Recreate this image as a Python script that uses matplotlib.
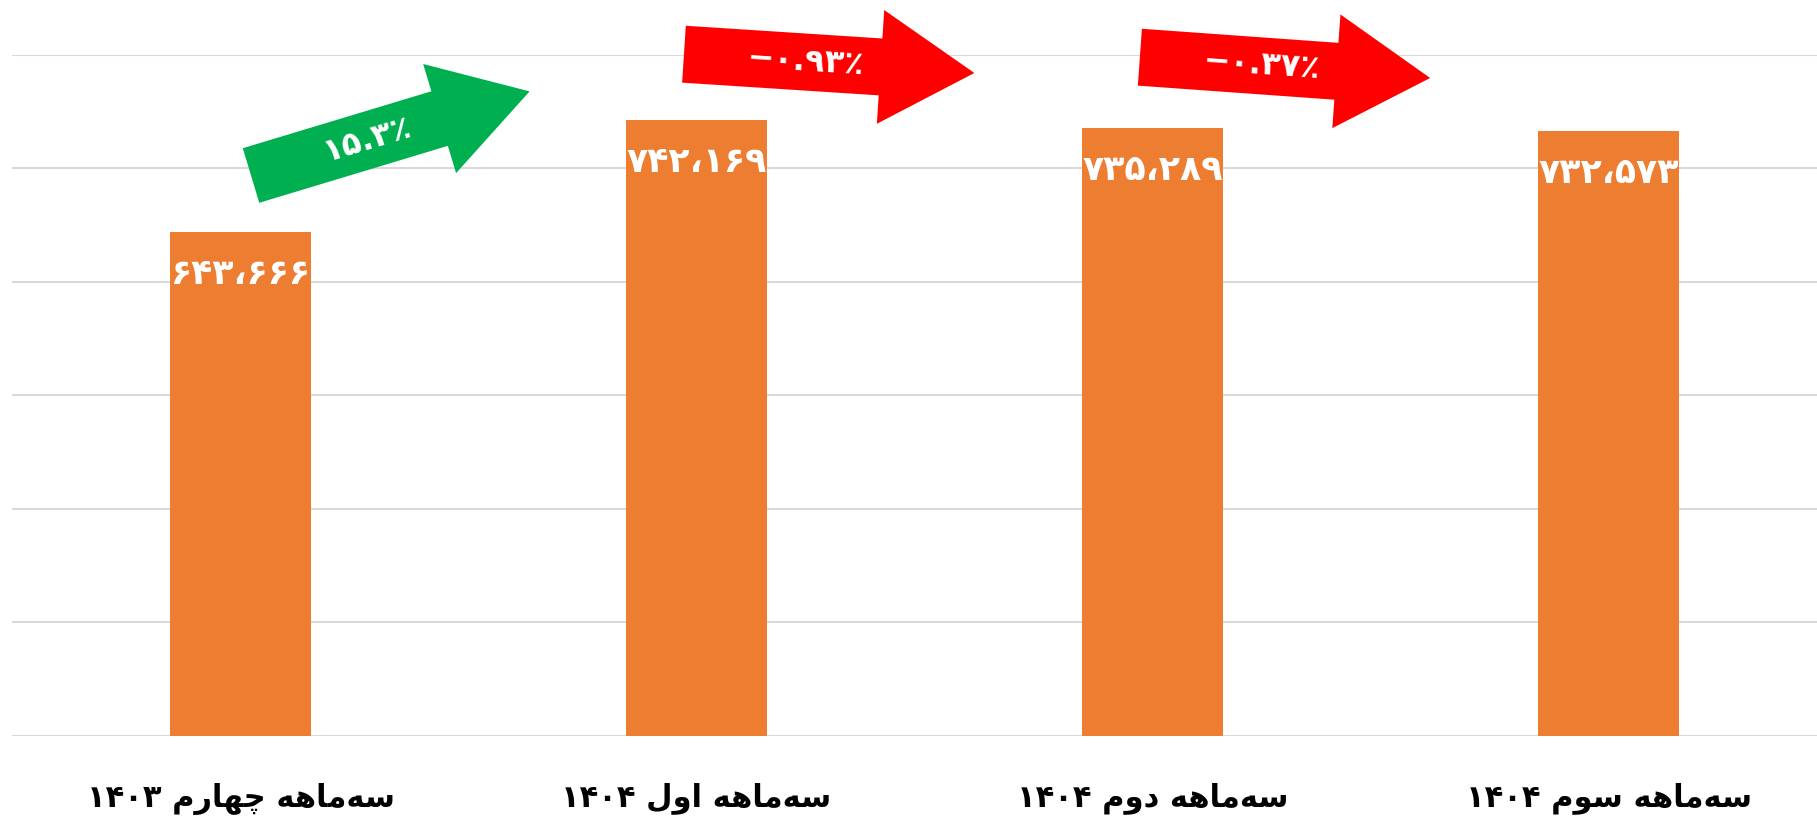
import numpy as np
import matplotlib
matplotlib.use('Agg')
import matplotlib.pyplot as plt
from matplotlib.patches import Polygon
from matplotlib.transforms import IdentityTransform

# data
categories = ['سه‌ماهه چهارم ۱۴۰۳', 'سه‌ماهه اول ۱۴۰۴', 'سه‌ماهه دوم ۱۴۰۴', 'سه‌ماهه سوم ۱۴۰۴']
values = [643666, 742169, 735289, 732573]
changes = [15.3, -0.93, -0.37]

BAR_COLOR = '#ED7D31'
UP_COLOR = '#00B050'
DOWN_COLOR = '#FF0000'
W, H = 1817, 819

# contextual forms: isolated, final, initial, medial
FORMS = {
    'ا': ('\uFE8D', '\uFE8E', None, None),
    'د': ('\uFEA9', '\uFEAA', None, None),
    'ر': ('\uFEAD', '\uFEAE', None, None),
    'و': ('\uFEED', '\uFEEE', None, None),
    'س': ('\uFEB1', '\uFEB2', '\uFEB3', '\uFEB4'),
    'ه': ('\uFEE9', '\uFEEA', '\uFEEB', '\uFEEC'),
    'م': ('\uFEE1', '\uFEE2', '\uFEE3', '\uFEE4'),
    'ل': ('\uFEDD', '\uFEDE', '\uFEDF', '\uFEE0'),
    'چ': ('\uFB7A', '\uFB7B', '\uFB7C', '\uFB7D'),
}
FA_DIGITS = str.maketrans('0123456789,-', '۰۱۲۳۴۵۶۷۸۹،−')


def shape_word(word):
    out = []
    for i, c in enumerate(word):
        if c not in FORMS:
            if c != '\u200c':
                out.append(c)
            continue
        prev = word[i - 1] if i > 0 else None
        nxt = word[i + 1] if i + 1 < len(word) else None
        f = FORMS[c]
        join_prev = prev in FORMS and FORMS[prev][2] is not None
        join_next = nxt in FORMS and f[2] is not None
        if join_prev and join_next:
            out.append(f[3])
        elif join_prev:
            out.append(f[1])
        elif join_next:
            out.append(f[2])
        else:
            out.append(f[0])
    return ''.join(out)


def rtl(text):
    # words right to left, letters reversed, digit runs kept as they are
    words = []
    for w in text.split(' '):
        if any(ch in FORMS for ch in w):
            words.append(shape_word(w)[::-1])
        else:
            words.append(w)
    return ' '.join(words[::-1])


def draw_arrow(ax, i, dx, y_img, angle, color, label):
    # arrow built in pixels, tail anchored near bar i
    L, w, hw, hl = 291, 57, 114, 94
    x0 = ax.transData.transform((i, 0))[0] + dx
    y0 = H - y_img
    local = np.array([[0, -w / 2], [L - hl, -w / 2], [L - hl, -hw / 2], [L, 0],
                      [L - hl, hw / 2], [L - hl, w / 2], [0, w / 2]])
    a = np.radians(angle)
    rot = np.array([[np.cos(a), -np.sin(a)], [np.sin(a), np.cos(a)]])
    pts = local @ rot.T + [x0, y0]
    ax.add_patch(Polygon(pts, closed=True, facecolor=color, edgecolor='none',
                         transform=IdentityTransform(), clip_on=False, zorder=4))
    tx, ty = np.array([122, 0]) @ rot.T + [x0, y0]
    ax.text(tx, ty, label, transform=IdentityTransform(), color='white',
            fontsize=23, fontweight='bold', ha='center', va='center',
            rotation=angle, rotation_mode='anchor', zorder=5)


plt.rcParams['font.family'] = ['DejaVu Sans']

fig = plt.figure(figsize=(W / 100, H / 100), dpi=100)
ax = fig.add_axes([11.6 / W, (H - 736) / H, (W - 11.6) / W, (736 - 54.5) / H])

x = np.arange(len(values))
bars = ax.bar(x, values, width=0.31, color=BAR_COLOR, zorder=3)

ax.set_xlim(-0.502, 3.457)
ax.set_ylim(200000, 800000)
ax.set_yticks(np.arange(200000, 800001, 100000))
ax.yaxis.grid(True, color='#D9D9D9', linewidth=1.5)
ax.set_axisbelow(True)
for s in ax.spines.values():
    s.set_visible(False)
ax.tick_params(axis='y', left=False, labelleft=False)
ax.tick_params(axis='x', bottom=False, pad=30)
ax.set_xticks(x)
ax.set_xticklabels([rtl(c) for c in categories], fontsize=22, fontweight='bold')

for b, v in zip(bars, values):
    ax.annotate(f'{v:,}'.translate(FA_DIGITS), (b.get_x() + b.get_width() / 2, v),
                xytext=(0, -42), textcoords='offset pixels', ha='center', va='center',
                color='white', fontsize=25, fontweight='bold', zorder=5)

arrow_dx = [10.5, -12.6, -12.7]
arrow_y = [175.5, 54.2, 57.2]
arrow_angle = [16.8, -3.7, -4.1]
for i, p in enumerate(changes):
    color = UP_COLOR if p > 0 else DOWN_COLOR
    label = f'{p}'.translate(FA_DIGITS) + '٪'
    draw_arrow(ax, i, arrow_dx[i], arrow_y[i], arrow_angle[i], color, label)

fig.savefig('out.png', dpi=100)
